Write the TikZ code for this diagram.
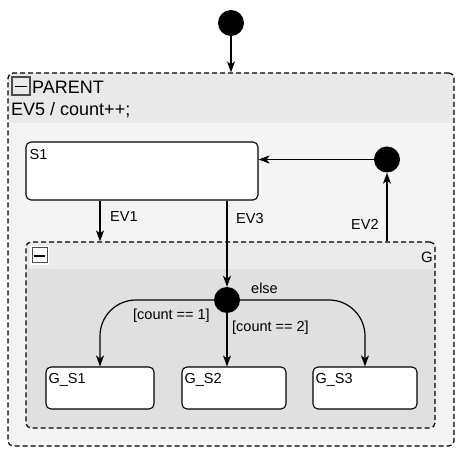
\documentclass[tikz,border=0pt]{standalone}
\usepackage{fontspec}
\setmainfont{Liberation Sans}
\usepackage{xcolor}
\usetikzlibrary{arrows.meta}
\definecolor{parhead}{HTML}{E9E9E9}
\definecolor{parbody}{HTML}{F4F4F4}
\definecolor{ghead}{HTML}{EBEBEB}
\definecolor{gbody}{HTML}{E0E0E0}

\begin{document}
\begin{tikzpicture}[x=1pt,y=-1pt,
	state/.style={draw,rounded corners=5pt,fill=white,line width=1.1pt,inner sep=0pt},
	lbl/.style={anchor=north west,inner sep=0pt,font=\fontsize{14.5}{16}\selectfont},
	dot/.style={circle,fill=black,inner sep=0pt,minimum size=26pt},
	trans/.style={-{Stealth[length=11pt,width=8pt,inset=3pt]},line width=1.2pt},
	evt/.style={anchor=west,inner sep=0pt,font=\fontsize{14.5}{16}\selectfont},
	comp/.style={draw,dash pattern=on 5pt off 3pt,rounded corners=5pt,line width=1.2pt,inner sep=0pt}]
\useasboundingbox (0,0) rectangle (467,457);
%
\node[comp,fill=parbody,minimum width=446pt,minimum height=373pt,
	path picture={\fill[parhead] (path picture bounding box.north west) rectangle ([yshift=-50pt]path picture bounding box.north east);}] (parent) at (231,259.5) {};
\node[comp,fill=gbody,minimum width=409pt,minimum height=186pt,
	path picture={\fill[ghead] (path picture bounding box.north west) rectangle ([yshift=-27pt]path picture bounding box.north east);}] (G) at (230.5,335) {};
%
\draw[gray!60!black,line width=1.5pt] (12,77) rectangle (30,95);
\draw[line width=0.8pt] (15,86) -- (27,86);
\fill[white] (30,246) rectangle (49,265);
\draw[gray!60!black,line width=1pt] (32,248) rectangle (47,263);
\draw[line width=2.5pt] (34,256) -- (45,256);
\node[anchor=base west,inner sep=0pt,font=\fontsize{18}{20}\selectfont] (ptitle) at (32,94) {PARENT};
\node[anchor=base west,inner sep=0pt,font=\fontsize{18}{20}\selectfont] (pact) at (11,116) {EV5 / count++;};
\node[anchor=base east,inner sep=0pt,font=\fontsize{15}{17}\selectfont] (gtitle) at (433,263) {G};
%
\node[state,minimum width=232pt,minimum height=58pt,label={[lbl,xshift=4pt,yshift=-8pt]north west:S1}] (S1) at (142,171) {};
\node[state,minimum width=108pt,minimum height=42pt,label={[lbl,xshift=3pt,yshift=-7pt]north west:G\_S1}] (gs1) at (100,388) {};
\node[state,minimum width=104pt,minimum height=42pt,label={[lbl,xshift=3pt,yshift=-7pt]north west:G\_S2}] (gs2) at (234,388) {};
\node[state,minimum width=104pt,minimum height=42pt,label={[lbl,xshift=3pt,yshift=-7pt]north west:G\_S3}] (gs3) at (365,388) {};
%
\node[dot] (init) at (231,23) {};
\node[dot] (join) at (387,159.5) {};
\node[dot] (ch) at (227,300) {};
%
\draw[trans] (init) -- (init |- parent.north);
\draw[trans] (join) -- (join -| S1.east);
\draw[trans] (G.north -| join) -- (join);
\draw[trans] (S1.south -| gs1) -- (G.north -| gs1);
\draw[trans] (S1.south -| ch) -- (ch);
\draw[trans,rounded corners=36pt] (ch.west) -| (gs1.north);
\draw[trans] (ch) -- (ch |- gs2.north);
\draw[trans,rounded corners=36pt] (ch.east) -| (gs3.north);
%
\node[evt] (lev1) at (110,217) {EV1};
\node[evt] (lev3) at (236,219) {EV3};
\node[evt] (lev2) at (351,224) {EV2};
\node[evt] (lelse) at (251,288) {else};
\node[evt] (lc1) at (133,316) {[count == 1]};
\node[evt] (lc2) at (232,328) {[count == 2]};
\end{tikzpicture}
\end{document}
